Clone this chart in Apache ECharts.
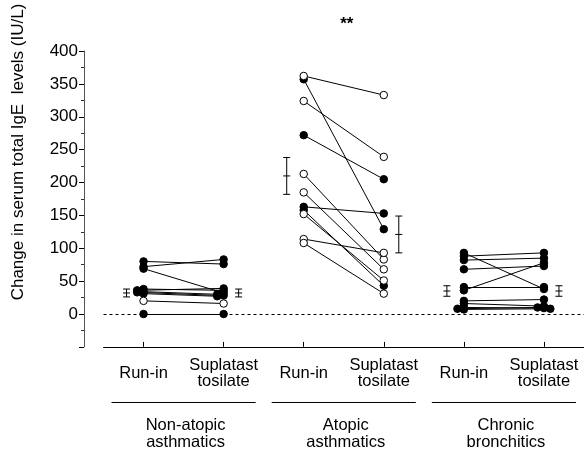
<!DOCTYPE html>
<html>
<head>
<meta charset="utf-8">
<script src="https://cdn.jsdelivr.net/npm/echarts@6/dist/echarts.min.js"></script>
<style>
  html, body { margin: 0; padding: 0; background: #fff; }
  #chart { width: 584px; height: 452px; }
</style>
</head>
<body>
<div id="chart"></div>
<script>
// ---- Data ----
const categories = ['Run-in', 'Suplatast\ntosilate', 'Run-in', 'Suplatast\ntosilate', 'Run-in', 'Suplatast\ntosilate'];
const groupNames = ['Non-atopic\nasthmatics', 'Atopic\nasthmatics', 'Chronic\nbronchitics'];
const yAxisTitle = 'Change in serum total IgE  levels (IU/L)';
const significance = '**';

// Non-atopic asthmatics (paired values, 1 = filled marker, 0 = open marker)
const nonAtopicRunIn = [80, 72, 69, 38, 36, 34, 33, 20, 31, 0];
const nonAtopicSupl  = [76, 83, 32, 36, 39, 30, 28, 16, 27, 0];
const nonAtopicFill  = [1, 1, 1, 1, 1, 1, 1, 0, 1, 1];

// Atopic asthmatics
const atopicRunIn = [362, 357, 324, 272, 213, 185, 163, 158, 152, 114, 108];
const atopicSupl  = [333, 129, 239, 205, 83, 68, 153, 43, 51, 93, 31];
const atopicFill  = [0, 1, 0, 1, 0, 0, 1, 1, 0, 0, 0];

// Chronic bronchitics
const chronicRunIn = [93, 88, 82, 68, 41, 36, 20, 16, 10, 8, 7];
const chronicSupl  = [38, 93, 85, 73, 41, 78, 22, 12, 9, 10, 8];
const chronicFill  = [1, 1, 1, 1, 1, 1, 1, 1, 1, 1, 1];

// Mean and SE bars (per group)
const meanRunIn = [32, 210, 35];
const seRunIn   = [6, 28, 8];
const meanSupl  = [32, 121, 35];
const seSupl    = [6, 28, 8];

// Y axis
const yMin = -50, yMax = 400, yStep = 50;

// ---- Build ----
const groups = [
  { runIn: nonAtopicRunIn, supl: nonAtopicSupl, fill: nonAtopicFill },
  { runIn: atopicRunIn, supl: atopicSupl, fill: atopicFill },
  { runIn: chronicRunIn, supl: chronicSupl, fill: chronicFill }
];

// simple beeswarm offsets so overlapping markers spread sideways
function swarm(values, dx, thr) {
  const order = values.map((v, i) => i).sort((a, b) => values[b] - values[a]);
  const placed = [];
  const off = new Array(values.length).fill(0);
  const slots = [0, -1, 1, -2, 2];
  order.forEach(i => {
    for (const s of slots) {
      if (!placed.some(p => p.s === s && Math.abs(p.v - values[i]) < thr)) {
        off[i] = s * dx; placed.push({ s: s, v: values[i] }); break;
      }
    }
  });
  return off;
}

const filledPts = [], openPts = [], pairLines = [];
groups.forEach((g, gi) => {
  const x0 = gi * 2, x1 = gi * 2 + 1;
  const o0 = swarm(g.runIn, 0.08, 3);
  const o1 = swarm(g.supl, 0.08, 3);
  g.runIn.forEach((v, i) => {
    const a = [x0 + o0[i], v];
    const b = [x1 + o1[i], g.supl[i]];
    pairLines.push({ coords: [a, b] });
    const target = g.fill[i] ? filledPts : openPts;
    target.push(a); target.push(b);
  });
});

const errData = [];
for (let gi = 0; gi < 3; gi++) {
  errData.push([gi * 2, meanRunIn[gi], seRunIn[gi], -1]);
  errData.push([gi * 2 + 1, meanSupl[gi], seSupl[gi], 1]);
}

const FONT = '"Liberation Sans", Arial, sans-serif';
const chart = echarts.init(document.getElementById('chart'));
const grid = { left: 103.5, top: 51, width: 487, height: 295.9 };

chart.setOption({
  animation: false,
  backgroundColor: '#fff',
  textStyle: { fontFamily: FONT },
  grid: grid,
  xAxis: [
    {
      type: 'category', data: categories, position: 'bottom', boundaryGap: true,
      axisLine: { show: true, onZero: false, lineStyle: { color: '#000', width: 1 } },
      axisTick: { show: true, inside: true, alignWithLabel: true, length: 5, lineStyle: { color: '#000' } },
      axisLabel: { interval: 0, color: '#000', fontSize: 16.5, fontFamily: FONT, lineHeight: 16, verticalAlign: 'middle', margin: 27 },
      splitLine: { show: false }
    },
    { type: 'value', min: -0.5, max: 5.5, show: false, axisLine: { onZero: false } }
  ],
  yAxis: {
    type: 'value', min: yMin, max: yMax, interval: yStep, offset: 19.5,
    axisLine: { show: true, onZero: false, lineStyle: { color: '#555', width: 1 } },
    axisTick: { show: true, length: 5, lineStyle: { color: '#000' } },
    minorTick: { show: true, splitNumber: 2, length: 3, lineStyle: { color: '#333' } },
    axisLabel: { color: '#000', fontSize: 17, fontFamily: FONT, margin: 6,
      formatter: v => (v < 0 ? '' : String(v)) },
    splitLine: { show: false }
  },
  series: [
    {
      type: 'lines', coordinateSystem: 'cartesian2d', xAxisIndex: 1, yAxisIndex: 0,
      data: pairLines, z: 2, silent: true,
      lineStyle: { color: '#000', width: 1, opacity: 1 },
      markLine: {
        silent: true, symbol: 'none', label: { show: false },
        lineStyle: { color: '#000', type: [3, 3], width: 1 },
        data: [{ yAxis: 0 }]
      }
    },
    {
      type: 'scatter', xAxisIndex: 1, yAxisIndex: 0, data: filledPts, z: 4,
      symbol: 'circle', symbolSize: 7.5,
      itemStyle: { color: '#000', borderColor: '#000', borderWidth: 1, opacity: 1 }
    },
    {
      type: 'scatter', xAxisIndex: 1, yAxisIndex: 0, data: openPts, z: 4,
      symbol: 'circle', symbolSize: 7.5,
      itemStyle: { color: '#fff', borderColor: '#000', borderWidth: 1, opacity: 1 }
    },
    {
      type: 'custom', xAxisIndex: 1, yAxisIndex: 0, data: errData, z: 3,
      renderItem: function (params, api) {
        const side = api.value(3);
        const c = api.coord([api.value(0), api.value(1)]);
        const top = api.coord([api.value(0), api.value(1) + api.value(2)]);
        const bot = api.coord([api.value(0), api.value(1) - api.value(2)]);
        const x = c[0] + (side < 0 ? -17 : 15);
        const w = 3.5;
        const st = { stroke: '#000', lineWidth: 1 };
        return {
          type: 'group', children: [
            { type: 'line', shape: { x1: x, y1: top[1], x2: x, y2: bot[1] }, style: st },
            { type: 'line', shape: { x1: x - w, y1: top[1], x2: x + w, y2: top[1] }, style: st },
            { type: 'line', shape: { x1: x - w, y1: bot[1], x2: x + w, y2: bot[1] }, style: st },
            { type: 'line', shape: { x1: x - w, y1: c[1], x2: x + w, y2: c[1] }, style: st }
          ]
        };
      }
    }
  ]
});

// group brackets and labels below the axis, placed from the axis scale
const gfx = [];
groupNames.forEach((name, gi) => {
  const mid = chart.convertToPixel({ xAxisIndex: 1 }, gi * 2 + 0.5);
  const l = chart.convertToPixel({ xAxisIndex: 1 }, gi * 2 + 0.5 - 0.9);
  const r = chart.convertToPixel({ xAxisIndex: 1 }, gi * 2 + 0.5 + 0.9);
  gfx.push({ type: 'line', shape: { x1: l, y1: 402.5, x2: r, y2: 402.5 }, style: { stroke: '#000', lineWidth: 1 } });
  gfx.push({ type: 'text', x: mid + 2, y: 434, style: { text: name, fill: '#000', font: '16.5px ' + FONT, align: 'center', verticalAlign: 'middle', lineHeight: 17 } });
});
const atopicMid = chart.convertToPixel({ xAxisIndex: 1 }, 2.5);
gfx.push({ type: 'text', x: atopicMid + 3, y: 24, style: { text: significance, fill: '#000', font: 'bold 17px ' + FONT, align: 'center', verticalAlign: 'middle' } });
gfx.push({ type: 'text', x: 18, y: 152, rotation: Math.PI / 2, style: { text: yAxisTitle, fill: '#000', font: '17px ' + FONT, align: 'center', verticalAlign: 'middle' } });
chart.setOption({ graphic: gfx });
</script>
</body>
</html>
